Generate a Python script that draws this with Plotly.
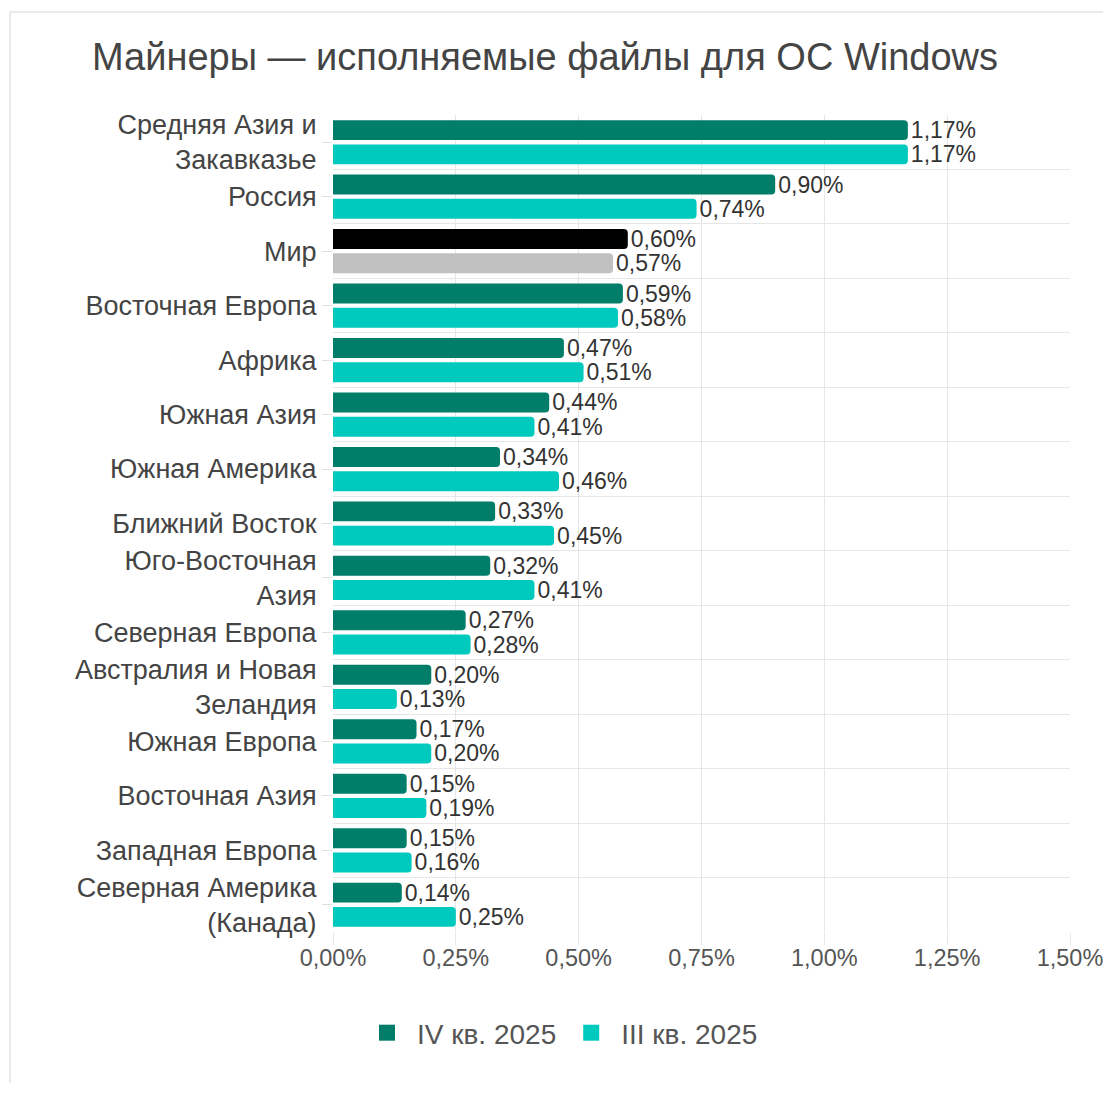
import plotly.graph_objects as go

categories = [
    "Средняя Азия и<br>Закавказье", "Россия", "Мир", "Восточная Европа", "Африка",
    "Южная Азия", "Южная Америка", "Ближний Восток", "Юго-Восточная<br>Азия",
    "Северная Европа", "Австралия и Новая<br>Зеландия", "Южная Европа",
    "Восточная Азия", "Западная Европа", "Северная Америка<br>(Канада)",
]
q4_2025 = [1.17, 0.90, 0.60, 0.59, 0.47, 0.44, 0.34, 0.33, 0.32, 0.27, 0.20, 0.17, 0.15, 0.15, 0.14]
q3_2025 = [1.17, 0.74, 0.57, 0.58, 0.51, 0.41, 0.46, 0.45, 0.41, 0.28, 0.13, 0.20, 0.19, 0.16, 0.25]
series_names = ["IV кв. 2025", "III кв. 2025"]
x_ticks = [0, 0.25, 0.5, 0.75, 1.0, 1.25, 1.5]
x_tick_labels = [f"{v:.2f}%".replace(".", ",") for v in x_ticks]

C_Q4, C_Q3 = "#007e69", "#00c9bd"
C_WORLD_Q4, C_WORLD_Q3 = "#000000", "#c0c0c0"
FONT = "Liberation Sans, Arial, sans-serif"

pos = list(range(len(categories)))
colors_q4 = [C_WORLD_Q4 if c == "Мир" else C_Q4 for c in categories]
colors_q3 = [C_WORLD_Q3 if c == "Мир" else C_Q3 for c in categories]

# page body has an 8px margin; figure is sized/placed to compensate
W, H = 1103, 1075
L, R, T = 325, 41, 107
PLOT_BOTTOM = 924
B = H - PLOT_BOTTOM
PW, PH = W - L - R, PLOT_BOTTOM - T

fig = go.Figure()
for name, vals, cols, legc in [(series_names[0], q4_2025, colors_q4, C_Q4),
                               (series_names[1], q3_2025, colors_q3, C_Q3)]:
    fig.add_trace(go.Bar(
        name=name, y=pos, x=vals, orientation="h", legendgroup=name, showlegend=False,
        marker=dict(color=cols, line=dict(width=0)),
        texttemplate="%{x:.2f}%", textposition="outside", constraintext="none",
        textfont=dict(size=23, color="#333333", family=FONT),
        cliponaxis=False, hoverinfo="x+name",
    ))
    # legend entry with a larger square symbol
    fig.add_trace(go.Scatter(
        name=name, x=[None], y=[None], mode="markers", legendgroup=name,
        marker=dict(symbol="square", size=18, color=legc), hoverinfo="skip",
    ))

fig.update_layout(
    width=W, height=H,
    paper_bgcolor="white", plot_bgcolor="white",
    font=dict(family=FONT, color="#444444"),
    separators=", ",
    barmode="group", bargap=0.11, bargroupgap=0.177, barcornerradius=4,
    margin=dict(l=L, r=R, t=T, b=B, autoexpand=False),
    title=dict(text="Майнеры — исполняемые файлы для ОС Windows",
               xref="container", x=537 / W, xanchor="center",
               yref="container", y=1 - 49 / H, yanchor="middle",
               font=dict(size=38, color="#444444", family=FONT)),
    showlegend=True,
    legend=dict(orientation="h", x=(552 - L) / PW, xanchor="center",
                y=(PLOT_BOTTOM - 1025) / PH, yanchor="middle",
                font=dict(size=28, color="#555555", family=FONT), itemwidth=50,
                traceorder="normal"),
    xaxis=dict(range=[0, 1.5], tickvals=x_ticks, ticktext=x_tick_labels,
               showgrid=True, gridcolor="#e6e6e6", zeroline=False,
               ticks="outside", ticklen=12, tickcolor="#e6e6e6", ticklabelstandoff=-7,
               tickfont=dict(size=23.5, color="#555555"), showline=False),
    yaxis=dict(range=[14.5, -0.5], tickvals=pos, ticktext=categories,
               showgrid=False, zeroline=False, ticks="outside", ticklen=10,
               tickcolor="#e0e0e0", tickfont=dict(size=27, color="#444444"),
               minor=dict(tick0=0.5, dtick=1, showgrid=True, gridcolor="#e6e6e6", ticks=""),
               ),
    shapes=[dict(type="rect", xref="paper", yref="paper",
                 x0=(2 - L) / PW, x1=(W + 20 - L) / PW,
                 y0=(PLOT_BOTTOM - (H + 40)) / PH, y1=(PLOT_BOTTOM - 4) / PH,
                 line=dict(color="#e3e3e3", width=1.5), fillcolor="rgba(0,0,0,0)",
                 layer="below")],
)

fig.write_html("out.html")
